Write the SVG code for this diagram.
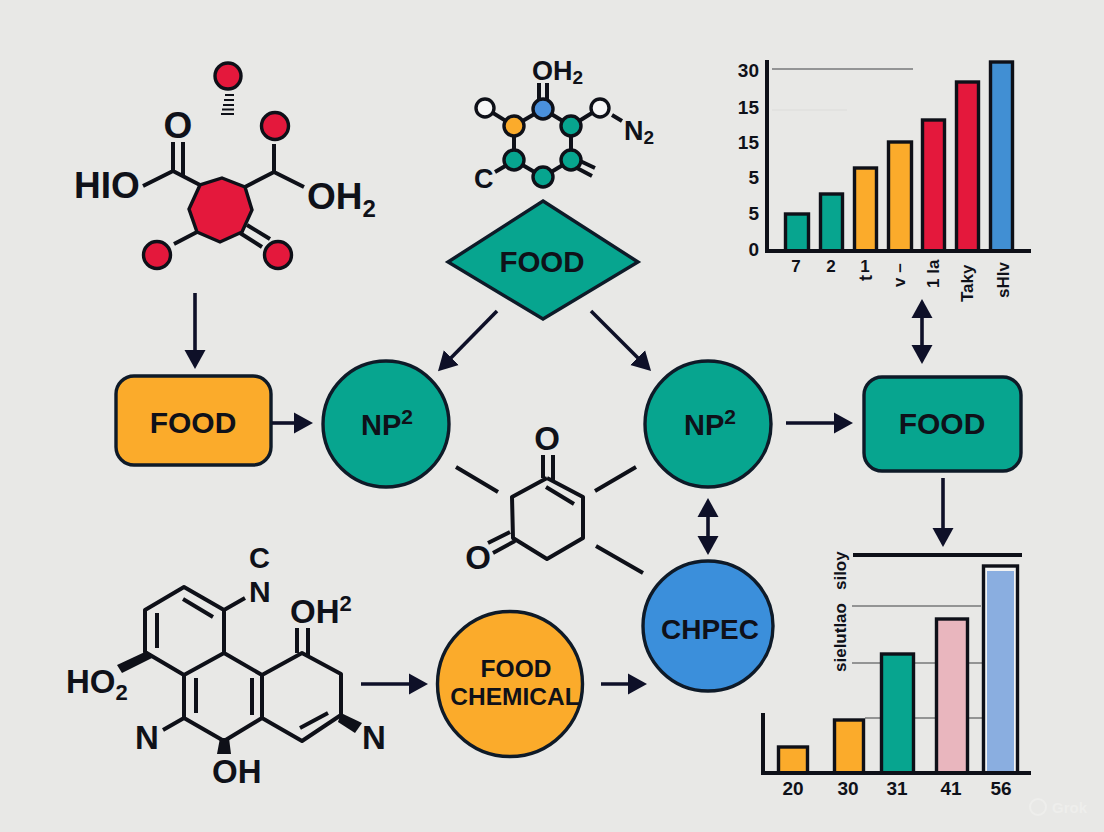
<svg xmlns="http://www.w3.org/2000/svg" width="1104" height="832" viewBox="0 0 1104 832">
<style>
text{font-family:"Liberation Sans",Arial,sans-serif;font-weight:700;fill:#0f1119}
.m{text-anchor:middle}
.e{text-anchor:end}
.bond{stroke:#0e1018;stroke-width:4;fill:none;stroke-linecap:butt;stroke-linejoin:round}
.k{fill:#0e1018}
.node{stroke:#0e1a28;stroke-width:3.4}
.red{fill:#e4183c;stroke:#0e1018;stroke-width:3.4}
.teal{fill:#07a58f}
.orange{fill:#fbab2b}
.blue{fill:#3b8fdb}
.bar{stroke:#0e1018;stroke-width:3.4}
.lab{font-size:37px}
.lab2{font-size:27px}
.lab3{font-size:33px}
.tick{font-size:19px}
.conn{stroke:#0e1028;stroke-width:3.6;fill:none}
.grid{stroke:#77787a;stroke-width:1.3}
.at{fill:#f6f6f6;stroke:#0e1018;stroke-width:3.4}
</style>
<defs>
<marker id="ah" markerUnits="userSpaceOnUse" markerWidth="20" markerHeight="22" refX="9" refY="11" orient="auto-start-reverse"><path d="M0 0.500 L19 11 L0 21.500 Z" fill="#0e1028"/></marker>
</defs>
<rect width="1104" height="832" fill="#e8e8e6"/>

<g id="molecule-red">
<circle class="red" cx="228" cy="76" r="13"/>
<path class="bond" style="stroke-width:2.200" d="M225 95H234M224 100H234M223 105H234M222 109.500H234M221 114H234"/>
<polygon points="222,178 245,187 252,210 242,232 220,242 197,232 189,209 200,185" fill="#e4183c" stroke="#0e1018" stroke-width="3.400"/>
<path class="bond" d="M200 185L173 171L143 186M173 172V142M183 176V142M245 187L274 172L304 187M274 172V144M197 232L174 244M247 225L270 239M240 233L262 247"/>
<circle class="red" cx="275" cy="126" r="13.500"/>
<circle class="red" cx="157" cy="255" r="13.500"/>
<circle class="red" cx="278" cy="255" r="13.500"/>
<text class="lab m" x="178" y="138">O</text>
<text class="lab" x="74" y="198">HIO</text>
<text class="lab" x="307" y="209">OH<tspan font-size="24" dy="8">2</tspan></text>
</g>

<g id="molecule-ring">
<path class="bond" d="M485 108L514 126L543 109L571 126L600 108M514 126V160L543 177L571 160V126M612 115L622 121M495 172L507 165M539 83V100M547 83V100M578 160L595 168M575 167L592 176"/>
<circle cx="485" cy="108" r="9" class="at"/>
<circle cx="600" cy="108" r="9" class="at"/>
<circle cx="514" cy="126" r="10" class="orange bar"/>
<circle cx="543" cy="109" r="10" fill="#4a90dc" class="bar"/>
<circle cx="571" cy="126" r="10" class="teal bar"/>
<circle cx="571" cy="160" r="10" class="teal bar"/>
<circle cx="543" cy="177" r="10" class="teal bar"/>
<circle cx="514" cy="160" r="10" class="teal bar"/>
<text class="lab2" x="532" y="80">OH<tspan font-size="19" dy="4">2</tspan></text>
<text class="lab2" x="624" y="140">N<tspan font-size="19" dy="4">2</tspan></text>
<text class="lab2" x="474" y="188">C</text>
</g>

<g id="node-food-diamond">
<polygon class="node teal" points="543,201 638,262 543,319 448,262"/>
<text class="m" x="542" y="272" font-size="29.500">FOOD</text>
</g>

<g id="chart-top">
<path class="grid" d="M772 69H913"/>
<path stroke="#dcdcda" stroke-width="1" d="M772 110H847"/>
<rect class="bar teal" x="785.500" y="214" width="23" height="37"/>
<rect class="bar teal" x="820.500" y="194" width="22" height="57"/>
<rect class="bar orange" x="854.500" y="168" width="22" height="83"/>
<rect class="bar orange" x="888.500" y="142" width="23" height="109"/>
<rect class="bar" fill="#e4183c" x="922.500" y="120" width="22" height="131"/>
<rect class="bar" fill="#e4183c" x="956.500" y="82" width="22" height="169"/>
<rect class="bar" fill="#418fd3" x="990.500" y="62" width="22" height="189"/>
<path class="bond" d="M767 60V252.500M765 251H1031"/>
<text class="tick e" x="759" y="77">30</text>
<text class="tick e" x="759" y="114">15</text>
<text class="tick e" x="759" y="149">15</text>
<text class="tick e" x="759" y="184">5</text>
<text class="tick e" x="759" y="220">5</text>
<text class="tick e" x="759" y="256">0</text>
<text class="m" font-size="17" x="796" y="272">7</text>
<text class="m" font-size="17" x="831" y="272">2</text>
<text class="m" font-size="17" x="865" y="272">1</text>
<text font-size="18" transform="translate(872 281) rotate(-90)">t</text>
<text font-size="17" transform="translate(905 287) rotate(-90)">v –</text>
<text font-size="17" transform="translate(939 288) rotate(-90)">1 la</text>
<text font-size="17" transform="translate(973 302) rotate(-90)">Taky</text>
<text font-size="17" transform="translate(1009 298) rotate(-90)">sHlv</text>
</g>

<g id="node-food-orange">
<rect class="node orange" x="116" y="376" width="155" height="89" rx="18"/>
<text class="m" x="193" y="433" font-size="30">FOOD</text>
</g>
<g id="node-np2-left">
<circle class="node teal" cx="386" cy="424" r="63"/>
<text class="m" x="387" y="435" font-size="29">NP<tspan font-size="21" dy="-11">2</tspan></text>
</g>
<g id="node-np2-right">
<circle class="node teal" cx="708" cy="424" r="63"/>
<text class="m" x="710" y="435" font-size="29">NP<tspan font-size="21" dy="-11">2</tspan></text>
</g>
<g id="node-food-teal">
<rect class="node teal" x="864" y="377" width="157" height="94" rx="18"/>
<text class="m" x="942" y="434" font-size="30">FOOD</text>
</g>
<g id="node-chpec">
<circle class="node blue" cx="708" cy="626" r="65"/>
<text class="m" x="710" y="639" font-size="28">CHPEC</text>
</g>
<g id="node-food-chemical">
<circle class="node orange" cx="510" cy="684" r="72.500"/>
<text class="m" x="516" y="677" font-size="24.500">FOOD</text>
<text class="m" x="515" y="705" font-size="24.500">CHEMICAL</text>
</g>

<g id="molecule-center">
<path class="bond" d="M547 478L583 497V538L547 559L513 538L512 497L547 478M546 487L574 504M543 455V478M553 455V481M488 543L510 532M493 553L515 541M456 467L498 492M595 491L636 467M596 546L643 573"/>
<text class="lab3 m" x="547" y="450">O</text>
<text class="lab3 m" x="478" y="569">O</text>
</g>

<g id="molecule-fused">
<path class="bond" d="M224 610L184 587L145 610V652L184 675L224 653V610M157 613V648M183 599L213 617M224 610L245 598M184 675V718L224 741L262 718V675L224 653M196 678V713M252 678V715M262 675L302 653L341 674V715L302 741L262 718M300 728L328 713M297 628V653M308 628V656M184 718L163 730"/>
<polygon class="k" points="147,651 152,658 122,673 117,665"/>
<polygon class="k" points="220,738 229,738 231,754 217,754"/>
<polygon class="k" points="341,713 362,723 355,733 338,722"/>
<text x="249" y="568" font-size="29">C</text>
<text x="249" y="602" font-size="30">N</text>
<text class="lab3" x="290" y="623">OH<tspan font-size="22" dy="-12">2</tspan></text>
<text class="lab3" x="66" y="693">HO<tspan font-size="22" dy="7">2</tspan></text>
<text class="lab3" x="135" y="749">N</text>
<text class="lab3" x="212" y="783">OH</text>
<text class="lab3" x="362" y="749">N</text>
</g>

<g id="chart-bottom">
<path class="grid" d="M852 606H981M852 663H880M915 663H935M969 663H982M865 718H880M915 718H935M969 718H982"/>
<path class="bond" d="M853 555H1022"/>
<rect class="bar orange" x="778.500" y="747" width="29" height="26"/>
<rect class="bar orange" x="834.500" y="720" width="29" height="53"/>
<rect class="bar teal" x="881.500" y="654" width="32" height="119"/>
<rect class="bar" fill="#e9b6be" x="936.500" y="619" width="31" height="154"/>
<rect class="bar" fill="#f2f3f3" x="983.500" y="566" width="34" height="207"/>
<rect x="987" y="571" width="27" height="201" fill="#8aaee0"/>
<path class="bond" d="M763 713V773M761 773H1031"/>
<text font-size="17" transform="translate(846 672) rotate(-90)">sielutlao<tspan dx="13">siloy</tspan></text>
<text class="tick m" x="793" y="795">20</text>
<text class="tick m" x="848" y="795">30</text>
<text class="tick m" x="897" y="795">31</text>
<text class="tick m" x="951" y="795">41</text>
<text class="tick m" x="1001" y="795">56</text>
</g>

<g id="watermark">
<circle cx="1038" cy="807" r="8" fill="none" stroke="#eeeeec" stroke-width="2"/>
<text x="1052" y="813" font-size="15" style="fill:#eeeeec">Grok</text>
</g>

<g id="connectors">
<path class="conn" marker-end="url(#ah)" d="M195 293V359"/>
<path class="conn" marker-end="url(#ah)" d="M272 423H303"/>
<path class="conn" marker-end="url(#ah)" d="M497 311L445 364"/>
<path class="conn" marker-end="url(#ah)" d="M591 311L644 364"/>
<path class="conn" marker-end="url(#ah)" d="M786 423H843"/>
<path class="conn" marker-start="url(#ah)" marker-end="url(#ah)" d="M922 309V354"/>
<path class="conn" marker-start="url(#ah)" marker-end="url(#ah)" d="M708 508V545"/>
<path class="conn" marker-end="url(#ah)" d="M943 478V537"/>
<path class="conn" marker-end="url(#ah)" d="M361 684H418"/>
<path class="conn" marker-end="url(#ah)" d="M601 684H637"/>
</g>
</svg>
